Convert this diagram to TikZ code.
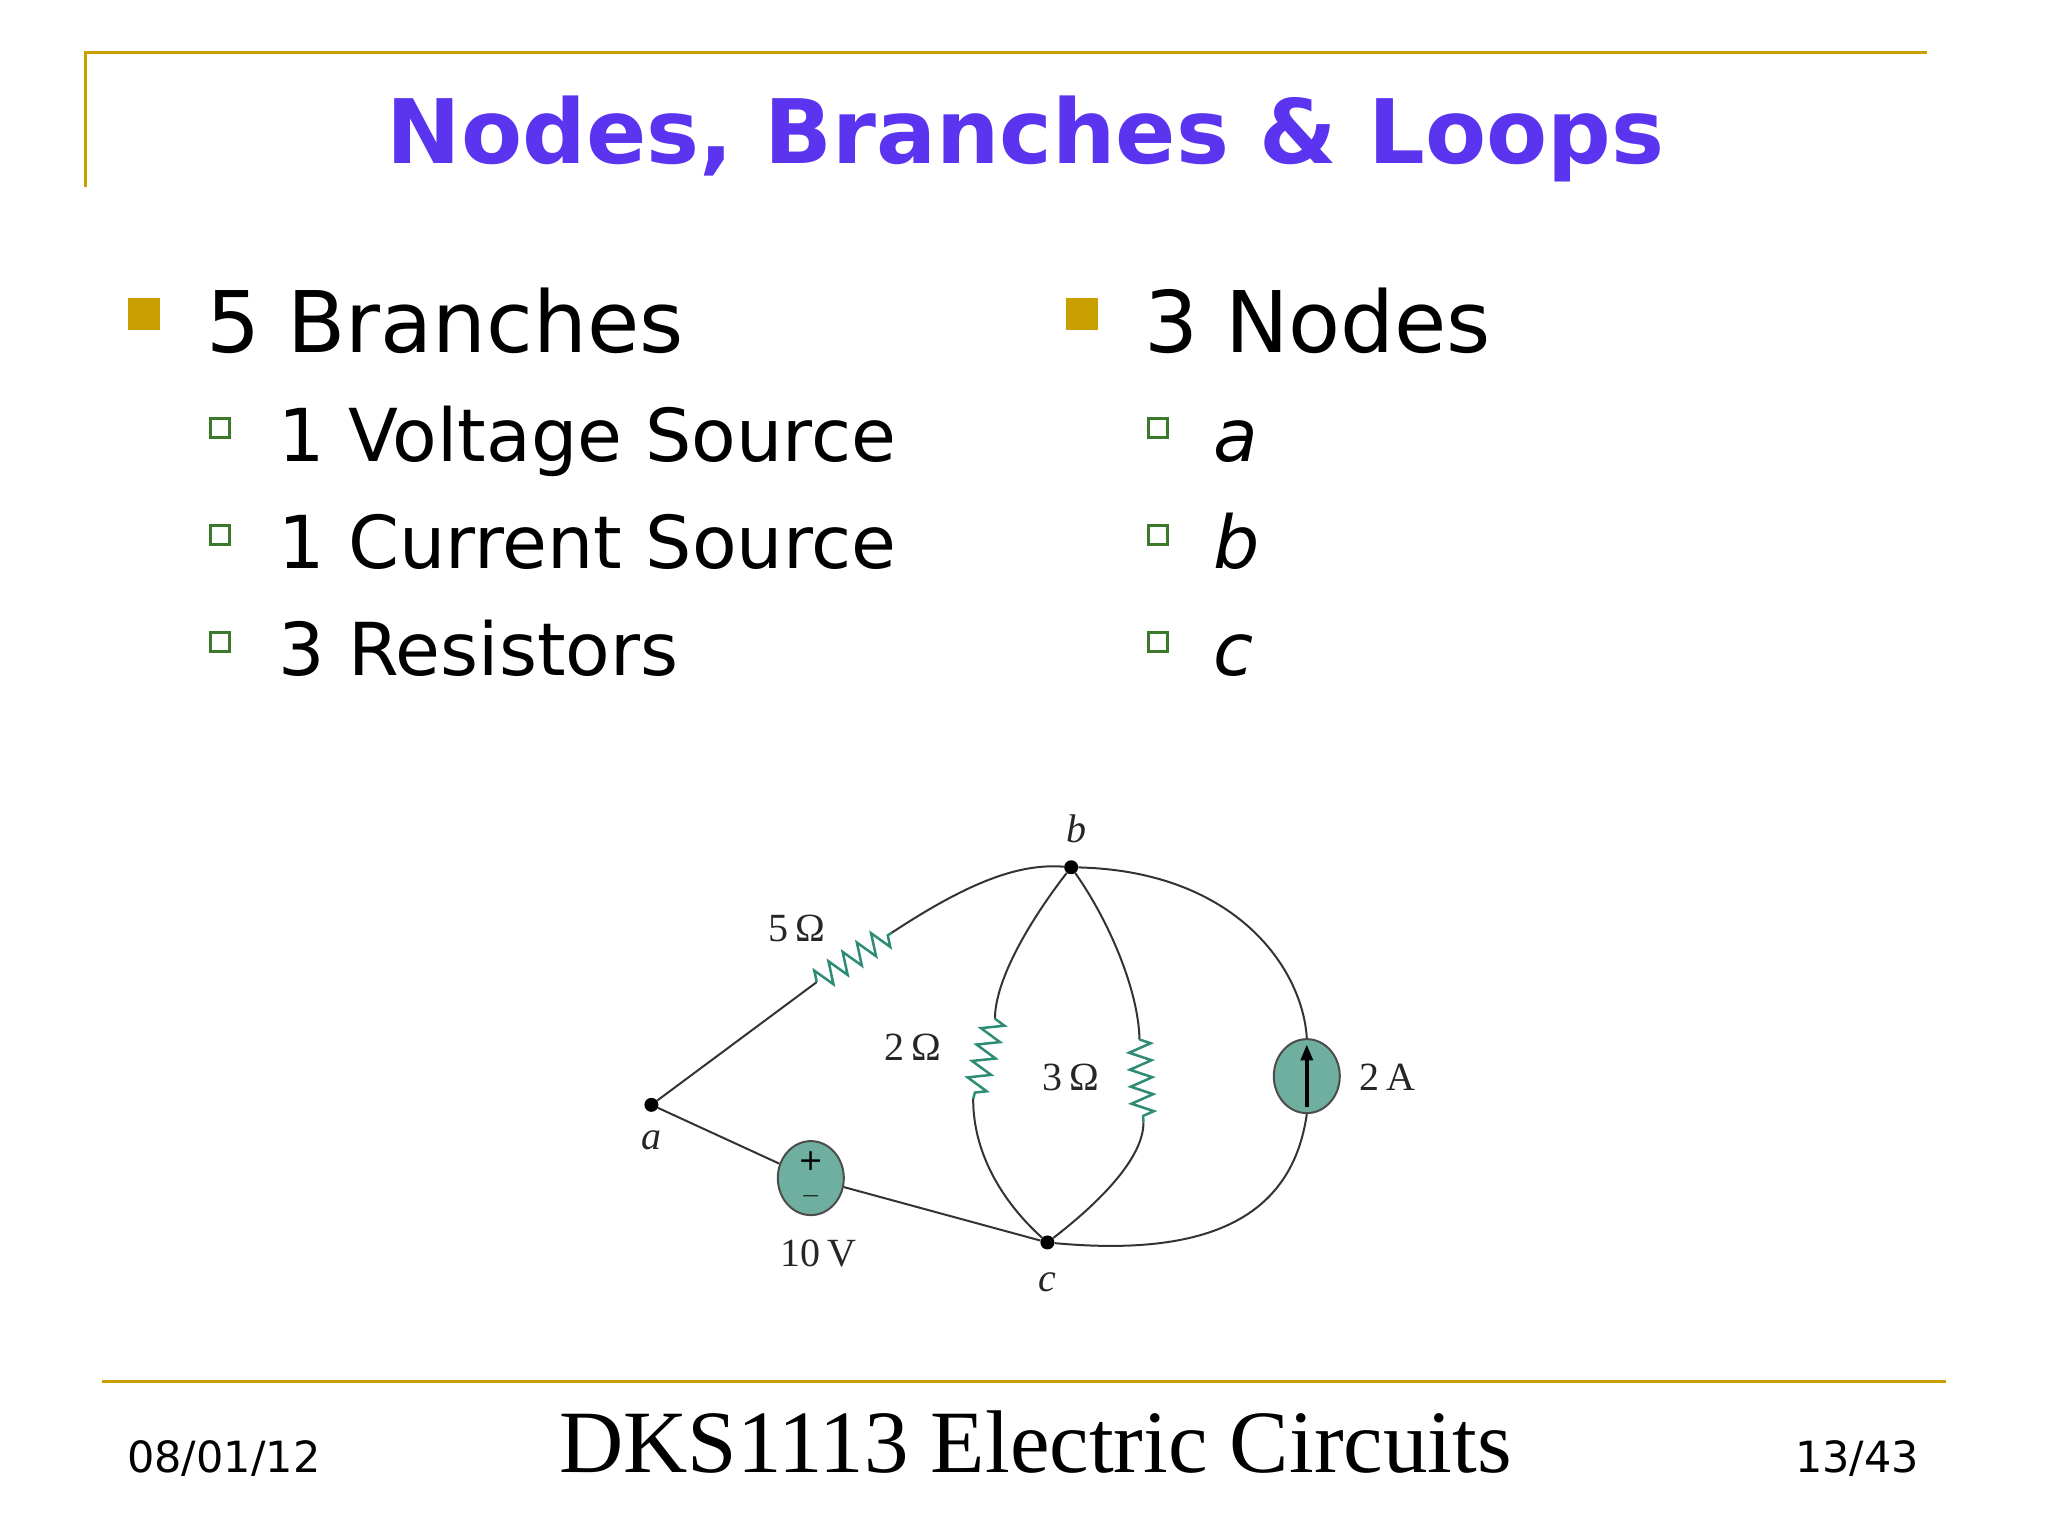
\documentclass[tikz,border=0pt]{standalone}
\usepackage{fontspec}
\setmainfont{DejaVu Sans}
\newfontfamily\serif{Liberation Serif}
\usetikzlibrary{decorations.pathmorphing,arrows.meta,shapes.geometric}
\definecolor{gold}{HTML}{C9A000}
\definecolor{titleblue}{HTML}{5B34F0}
\definecolor{bgreen}{HTML}{3A7A2A}
\definecolor{teal}{HTML}{6FAFA0}
\definecolor{rgreen}{HTML}{2E8B74}
\begin{document}
\begin{tikzpicture}[x=0.99pt,y=-0.99pt,
  main/.style={anchor=base west,font=\fontsize{85}{90}\selectfont},
  sub/.style={anchor=base west,font=\fontsize{73}{76}\selectfont},
  sq/.style={fill=gold,minimum size=32pt,inner sep=0pt},
  hsq/.style={draw=bgreen,line width=3pt,minimum size=19pt,inner sep=0pt},
  wire/.style={line width=2pt,black!80},
  res/.style={line width=2.5pt,rgreen,decorate,decoration={zigzag,segment length=17pt,amplitude=11pt}},
  src/.style={draw=black!70,line width=2pt,fill=teal,ellipse,minimum width=66pt,minimum height=74pt},
  dot/.style={circle,fill=black,minimum size=14pt,inner sep=0pt},
  sign/.style={font=\fontsize{30}{32}\selectfont,inner sep=0pt},
  lab/.style={font=\serif\fontsize{40}{42}\selectfont,text=black!85}]
\useasboundingbox (0,0) rectangle (2068.7,1551.5);
\draw[gold,line width=3pt] (86,189) -- (86,53) -- (1946,53);
\node[font=\bfseries\fontsize{89}{94}\selectfont,text=titleblue,anchor=base] (title) at (1036,165) {Nodes, Branches \& Loops};
% left column
\node[sq] (s1) at (145,317) {};
\node[main] (t1) at (205,356) {5 Branches};
\node[hsq] (s11) at (222,432) {}; \node[sub] (t11) at (278,466) {1 Voltage Source};
\node[hsq] (s12) at (222,540) {}; \node[sub] (t12) at (278,574) {1 Current Source};
\node[hsq] (s13) at (222,648) {}; \node[sub] (t13) at (278,682) {3 Resistors};
% right column
\node[sq] (s2) at (1093,317) {};
\node[main] (t2) at (1152,356) {3 Nodes};
\node[hsq] (s21) at (1170,432) {}; \node[sub] (t21) at (1222,466) {\itshape a};
\node[hsq] (s22) at (1170,540) {}; \node[sub] (t22) at (1222,574) {\itshape b};
\node[hsq] (s23) at (1170,648) {}; \node[sub] (t23) at (1222,682) {\itshape c};
% footer
\draw[gold,line width=3pt] (103,1395) -- (1966,1395);
\node[anchor=base west,font=\fontsize{43}{45}\selectfont] (date) at (125,1487) {08/01/12};
\node[anchor=base,font=\serif\fontsize{89}{92}\selectfont] (course) at (1046,1487) {DKS1113 Electric Circuits};
\node[anchor=base east,font=\fontsize{43}{45}\selectfont] (page) at (1942,1487) {13/43};
% circuit
\node[dot] (a) at (658,1116) {};
\node[dot] (b) at (1082,876) {};
\node[dot] (c) at (1058,1255) {};
\node[lab,font=\serif\itshape\fontsize{40}{42}\selectfont] (la) at (658,1152) {a};
\node[lab,font=\serif\itshape\fontsize{40}{42}\selectfont] (lb) at (1087,837) {b};
\node[lab,font=\serif\itshape\fontsize{40}{42}\selectfont] (lc) at (1058,1295) {c};
\coordinate (r5a) at (825,992); \coordinate (r5b) at (901,942);
\coordinate (r2a) at (1005,1029); \coordinate (r2b) at (983,1110);
\coordinate (r3a) at (1151,1050); \coordinate (r3b) at (1155,1134);
\draw[wire] (a) -- (r5a);
\draw[res] (r5a) -- (r5b);
\draw[wire] (r5b) .. controls (980,890) and (1030,872) .. (b);
\draw[wire] (b) .. controls (1040,930) and (1005,990) .. (r2a);
\draw[res] (r2a) -- (r2b);
\draw[wire] (r2b) .. controls (983,1180) and (1030,1230) .. (c);
\draw[wire] (b) .. controls (1120,930) and (1150,1000) .. (r3a);
\draw[res] (r3a) -- (r3b);
\draw[wire] (r3b) .. controls (1155,1170) and (1110,1215) .. (c);
\node[src] (I) at (1320,1087) {};
\draw[line width=3.5pt,-{Triangle[length=16pt,width=12pt]}] (1320,1118) -- (1320,1055);
\draw[wire] (b) .. controls (1250,880) and (1316,980) .. (I.north);
\draw[wire] (I.south) .. controls (1305,1230) and (1220,1270) .. (c);
\node[lab,anchor=west] (l2a) at (1370,1088) {2\,A};
\node[src] (V) at (819,1190) {};
\node[sign] (vp) at (819,1173) {+};
\node[sign] (vm) at (819,1208) {$-$};
\draw[wire] (a) -- (V);
\draw[wire] (V) -- (c);
\node[lab] (l10) at (827,1266) {10\,V};
\node[lab] (l5) at (805,938) {5\,Ω};
\node[lab] (l2) at (922,1058) {2\,Ω};
\node[lab] (l3) at (1082,1088) {3\,Ω};
\end{tikzpicture}
\end{document}
